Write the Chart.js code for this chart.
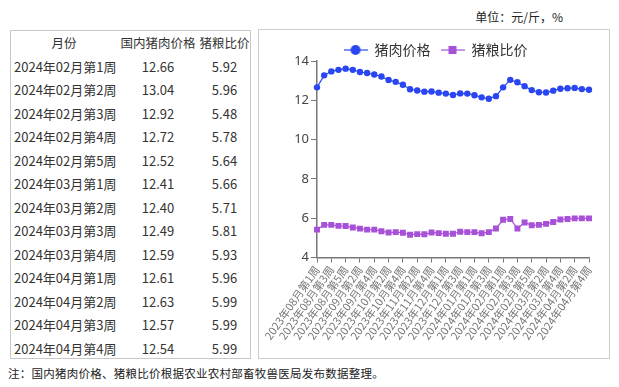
<!DOCTYPE html>
<html>
<head>
<meta charset="utf-8">
<script src="https://cdn.jsdelivr.net/npm/chart.js@4.4.0/dist/chart.umd.min.js"></script>
<style>
  body { margin: 0; width: 619px; height: 387px; background: #fff; position: relative; overflow: hidden;
         font-family: "Noto Sans CJK SC", "Noto Sans", sans-serif; color: #333; }
  .unit { position: absolute; right: 56px; top: 10px; font-size: 12px; line-height: 14px; color: #222; }
  .tbl { position: absolute; left: 10px; top: 30px; width: 241px; height: 329px; border: 1px solid #c8c8c8;
         box-sizing: border-box; }
  .tbl table { border-collapse: collapse; table-layout: fixed; width: 100%; }
  .tbl td { height: 23.5px; padding: 0; font-size: 13px; line-height: 23.5px; white-space: nowrap; text-align: center; }
  .tbl tr.head td { font-size: 12.5px; }
  .tbl td.wk { text-align: left; padding-left: 3px; }
  .tbl tr.head td.wk { text-align: center; padding-left: 0; }
  .box { position: absolute; left: 258px; top: 29px; width: 352px; height: 330px; border: 1px solid #ccc;
         box-sizing: border-box; }
  #chart { position: absolute; left: 259px; top: 30px; }
  .note { position: absolute; left: 8px; top: 366px; font-size: 11.5px; line-height: 14px; letter-spacing: 0.25px; color: #222; }
</style>
</head>
<body>
<div class="unit">单位：元/斤，%</div>
<div class="tbl"><table id="tbl">
  <colgroup><col style="width:106px"><col style="width:82px"><col></colgroup>
</table></div>
<div class="box"></div>
<canvas id="chart" width="350" height="328"></canvas>
<div class="note">注：国内猪肉价格、猪粮比价根据农业农村部畜牧兽医局发布数据整理。</div>

<script>
// weekly data, 2023-08 week 1 .. 2024-04 week 4
const weeks = [
  "2023年08月第1周", "2023年08月第2周", "2023年08月第3周", "2023年08月第4周", "2023年08月第5周",
  "2023年09月第1周", "2023年09月第2周", "2023年09月第3周", "2023年09月第4周",
  "2023年10月第1周", "2023年10月第2周", "2023年10月第3周", "2023年10月第4周",
  "2023年11月第1周", "2023年11月第2周", "2023年11月第3周", "2023年11月第4周", "2023年11月第5周",
  "2023年12月第1周", "2023年12月第2周", "2023年12月第3周", "2023年12月第4周",
  "2024年01月第1周", "2024年01月第2周", "2024年01月第3周", "2024年01月第4周",
  "2024年02月第1周", "2024年02月第2周", "2024年02月第3周", "2024年02月第4周", "2024年02月第5周",
  "2024年03月第1周", "2024年03月第2周", "2024年03月第3周", "2024年03月第4周",
  "2024年04月第1周", "2024年04月第2周", "2024年04月第3周", "2024年04月第4周"
]
const porkPrice = [
  12.66, 13.27, 13.47, 13.55, 13.61,
  13.55, 13.44, 13.39, 13.31,
  13.21, 13.03, 12.94, 12.79,
  12.56, 12.50, 12.44, 12.45, 12.39,
  12.34, 12.27, 12.35, 12.34,
  12.26, 12.15, 12.08, 12.21,
  12.66, 13.04, 12.92, 12.72, 12.52,
  12.41, 12.40, 12.49, 12.59,
  12.61, 12.63, 12.57, 12.54
]
const hogGrainRatio = [
  5.42, 5.66, 5.66, 5.61, 5.60,
  5.53, 5.47, 5.42, 5.42,
  5.34, 5.27, 5.29, 5.26,
  5.16, 5.19, 5.18, 5.27, 5.24,
  5.21, 5.21, 5.31, 5.29,
  5.29, 5.23, 5.29, 5.48,
  5.92, 5.96, 5.48, 5.78, 5.64,
  5.66, 5.71, 5.81, 5.93,
  5.96, 5.99, 5.99, 5.99
]
const yTicks = [4, 6, 8, 10, 12, 14]
const tableHead = ["月份", "国内猪肉价格", "猪粮比价"]
const tableRows = 13   // the table lists the latest 13 weeks

// table on the left
const tbl = document.getElementById("tbl")
const addRow = (cells, cls) => {
  const tr = document.createElement("tr")
  if (cls) tr.className = cls
  cells.forEach((c, i) => {
    const td = document.createElement("td")
    if (i === 0) td.className = "wk"
    td.textContent = c
    tr.appendChild(td)
  })
  tbl.appendChild(tr)
}
addRow(tableHead, "head")
const start = weeks.length - tableRows
for (let i = start; i < weeks.length; i++) {
  addRow([weeks[i], porkPrice[i].toFixed(2), hogGrainRatio[i].toFixed(2)])
}

// legend icons: short line with the marker on it
const BLUE = "#2a45f2"
const PURPLE = "#a750d8"
function legendIcon(color, shape) {
  const c = document.createElement("canvas")
  c.width = 24; c.height = 12
  const g = c.getContext("2d")
  g.strokeStyle = color; g.lineWidth = 1.2
  g.beginPath(); g.moveTo(0, 6); g.lineTo(24, 6); g.stroke()
  g.fillStyle = color
  if (shape === "circle") { g.beginPath(); g.arc(12, 6, 5, 0, Math.PI * 2); g.fill() }
  else g.fillRect(8, 2, 8, 8)
  return c
}
const icons = [legendIcon(BLUE, "circle"), legendIcon(PURPLE, "rect")]

// move the legend a bit closer to the plot
const legendNudge = {
  id: "legendNudge",
  afterLayout(chart) {
    const lg = chart.legend
    if (lg) { lg.top += 6; lg.bottom += 6 }
  }
}

new Chart(document.getElementById("chart"), {
  type: "line",
  data: {
    labels: weeks,
    datasets: [
      { label: "猪肉价格", data: porkPrice, borderColor: BLUE, backgroundColor: BLUE, borderWidth: 1.2,
        pointStyle: "circle", pointRadius: 3.2, pointBorderWidth: 0, tension: 0 },
      { label: "猪粮比价", data: hogGrainRatio, borderColor: PURPLE, backgroundColor: PURPLE, borderWidth: 1.2,
        pointStyle: "rect", pointRadius: 4.2, pointBorderWidth: 0, tension: 0 }
    ]
  },
  options: {
    responsive: false,
    animation: false,
    events: [],
    layout: { padding: { left: 23, right: 20, top: -3, bottom: 0 } },
    plugins: {
      tooltip: { enabled: false },
      legend: {
        position: "top",
        labels: {
          usePointStyle: true,
          pointStyleWidth: 24,
          padding: 10,
          color: "#333",
          font: { family: "Noto Sans CJK SC", size: 14 },
          generateLabels: (chart) =>
            Chart.defaults.plugins.legend.labels.generateLabels(chart).map((item, i) => ({ ...item, pointStyle: icons[i] }))
        }
      }
    },
    scales: {
      x: {
        offset: false,
        grid: {
          drawOnChartArea: false, tickLength: 5, offset: false,
          tickColor: (ctx) => (ctx.index % 2 ? "rgba(0,0,0,0)" : "#777")
        },
        border: { display: true, color: "#777", width: 1.5 },
        ticks: {
          autoSkip: false, minRotation: 55, maxRotation: 55, padding: 1,
          color: "#777", font: { family: "Noto Sans CJK SC", size: 11 },
          callback: (v, i) => (i % 2 ? "" : weeks[i])
        },
        afterFit: (scale) => { scale.height = 100.5 }
      },
      y: {
        min: yTicks[0], max: yTicks[yTicks.length - 1],
        afterBuildTicks: (scale) => { scale.ticks = yTicks.map(v => ({ value: v })) },
        grid: { drawOnChartArea: false, tickLength: 6, tickColor: "#777" },
        border: { display: true, color: "#777", width: 1.5 },
        ticks: { padding: 2, color: "#444", font: { family: "Noto Sans", size: 13 } },
        afterFit: (scale) => { scale.width = 35 }
      }
    }
  },
  plugins: [legendNudge]
})
</script>
</body>
</html>
